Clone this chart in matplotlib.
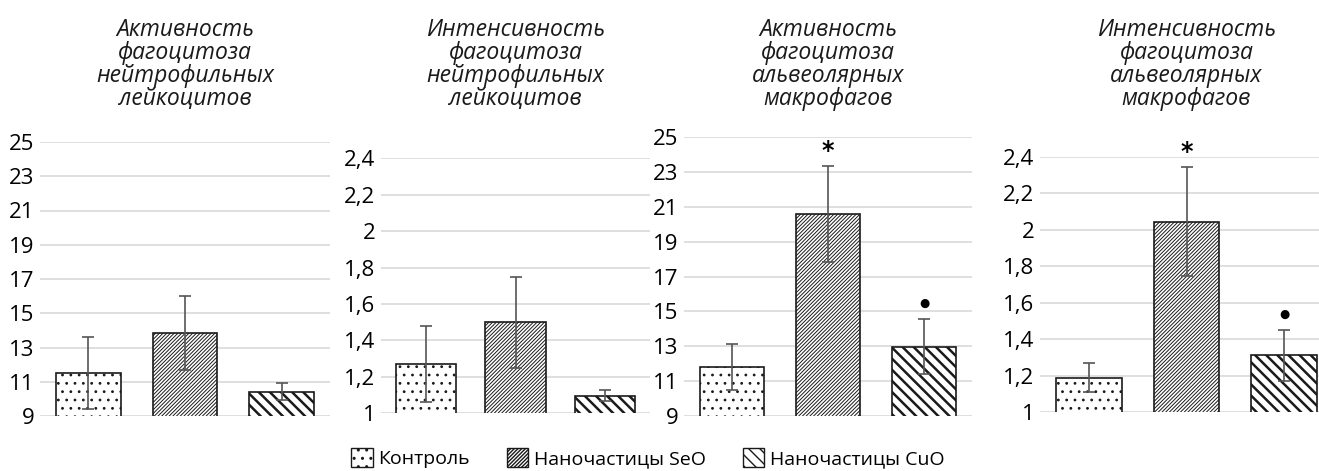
import matplotlib
matplotlib.use("Agg")
import matplotlib.pyplot as plt
from matplotlib.patches import Patch
from matplotlib.ticker import FuncFormatter

plt.rcParams['font.family'] = ['Open Sans', 'DejaVu Sans']

groups = ["Контроль", "Наночастицы SeO", "Наночастицы CuO"]
titles = [
    "Активность\nфагоцитоза\nнейтрофильных\nлейкоцитов",
    "Интенсивность\nфагоцитоза\nнейтрофильных\nлейкоцитов",
    "Активность\nфагоцитоза\nальвеолярных\nмакрофагов",
    "Интенсивность\nфагоцитоза\nальвеолярных\nмакрофагов",
]
values = [
    [11.5, 13.83, 10.42],
    [1.27, 1.50, 1.097],
    [11.8, 20.6, 12.97],
    [1.19, 2.044, 1.312],
]
errors = [
    [2.1, 2.15, 0.5],
    [0.21, 0.25, 0.03],
    [1.3, 2.76, 1.6],
    [0.08, 0.30, 0.14],
]
marks = [
    ["", "", ""],
    ["", "", ""],
    ["", "*", "●"],
    ["", "*", "●"],
]
yticks_a = [9, 11, 13, 15, 17, 19, 21, 23, 25]
yticks_i = [1, 1.2, 1.4, 1.6, 1.8, 2, 2.2, 2.4]
yticks = [yticks_a, yticks_i, yticks_a, yticks_i]

hatches = ['..', '/////////', '\\\\\\']
hatch_lw = [0.8, 0.7, 1.8]

W, H = 1319, 471
fig = plt.figure(figsize=(W / 100, H / 100), dpi=100)

# axes boxes in pixels: left, right, bottom(y from top), top(y from top)
boxes = [
    (40, 330, 416, 142),
    (381, 650, 413.3, 158.3),
    (684, 972, 415.7, 137.3),
    (1040, 1333, 412.3, 156.7),
]

def fmt(v, pos):
    s = ("%g" % v)
    return s.replace('.', ',')

for i in range(4):
    l, r, b, t = boxes[i]
    ax = fig.add_axes([l / W, 1 - b / H, (r - l) / W, (b - t) / H])
    x = list(range(3))
    for j in range(3):
        with plt.rc_context({'hatch.linewidth': hatch_lw[j]}):
            bar = ax.bar(x[j], values[i][j], width=0.67, bottom=0,
                         color='white', edgecolor='#1a1a1a', linewidth=1.2,
                         hatch=hatches[j], zorder=2)
            for p in bar:
                if hasattr(p, 'set_hatch_linewidth'):
                    p.set_hatch_linewidth(hatch_lw[j])
    ax.errorbar(x, values[i], yerr=errors[i], fmt='none', ecolor='#555555',
                elinewidth=1.2, capsize=4, capthick=1.2, zorder=3)
    for j in range(3):
        if marks[i][j]:
            top = values[i][j] + errors[i][j]
            star = marks[i][j] == '*'
            ax.annotate(marks[i][j], (x[j], top), xytext=(0, 11 if star else 11),
                        textcoords='offset points', ha='center', va='center',
                        fontsize=17 if star else 8.5, fontweight='bold' if star else 'normal',
                        color='black', annotation_clip=False, zorder=4,
                        family=['DejaVu Sans'])
    ax.set_xlim(-0.5, 2.5)
    ax.set_ylim(yticks[i][0], yticks[i][-1])
    ax.set_yticks(yticks[i])
    ax.yaxis.set_major_formatter(FuncFormatter(fmt))
    ax.set_xticks([])
    ax.grid(axis='y', color='#d9d9d9', linewidth=1.2, zorder=0)
    ax.set_axisbelow(True)
    for s in ax.spines.values():
        s.set_visible(False)
    ax.tick_params(axis='y', length=0, labelsize=16, pad=4, colors='black')
    cx = (l + r) / 2
    fig.text(cx / W, 0.962, titles[i], ha='center', va='top', fontsize=16.5,
             style='italic', linespacing=0.95, color='#1a1a1a')

handles = []
for j in range(3):
    with plt.rc_context({'hatch.linewidth': hatch_lw[j]}):
        p = Patch(facecolor='white', edgecolor='#1a1a1a', hatch=hatches[j], linewidth=1.0)
        if hasattr(p, 'set_hatch_linewidth'):
            p.set_hatch_linewidth(hatch_lw[j])
    handles.append(p)
fig.legend(handles, groups, loc='center', bbox_to_anchor=(648 / W, 1 - 458 / H),
           ncol=3, frameon=False, fontsize=14, handlelength=1.1, handleheight=1.1,
           handletextpad=0.3, columnspacing=1.9, borderaxespad=0)

fig.savefig('out.png', dpi=100)
